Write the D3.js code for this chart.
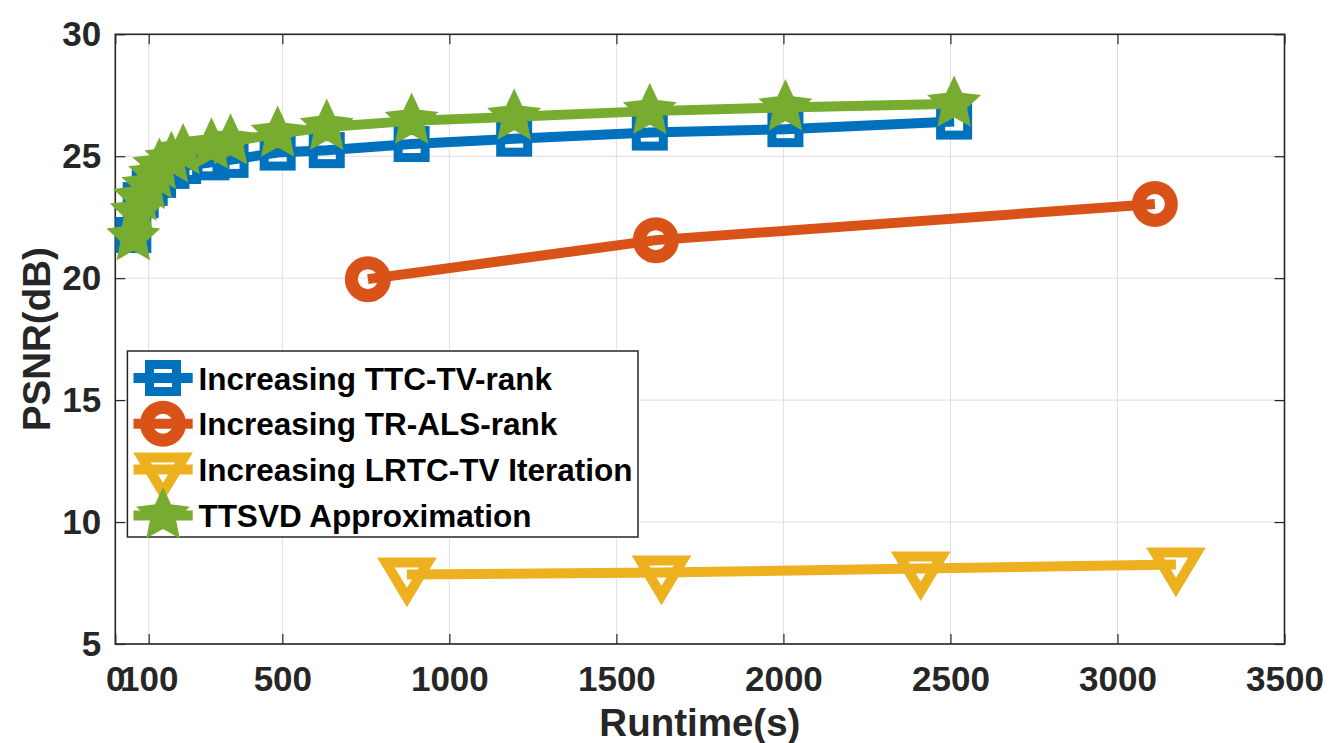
<!DOCTYPE html>
<html>
<head>
<meta charset="utf-8">
<script src="https://cdn.jsdelivr.net/npm/d3@7"></script>
<style>
  body { margin: 0; background: #fff; }
  svg { display: block; font-family: "Liberation Sans", Arial, sans-serif; font-weight: bold; }
  .grid line { stroke: #dedede; stroke-width: 1; }
</style>
</head>
<body>
<svg id="chart" width="1335" height="743"></svg>
<script>
// values
const ttcX = [54, 76, 103, 128, 168, 203, 288, 345, 486, 633, 887, 1194, 1600, 2006, 2511];
const ttcY = [21.77, 23.2, 23.7, 24.03, 24.4, 24.6, 24.75, 24.85, 25.15, 25.25, 25.5, 25.72, 25.97, 26.11, 26.42];

const trX = [756, 1618, 3112];
const trY = [19.96, 21.56, 23.04];

const lrtcX = [873, 1635, 2411, 3175];
const lrtcY = [7.85, 7.93, 8.10, 8.26];

const ttsvdX = [54, 64, 74, 99, 119, 132, 168, 203, 288, 345, 486, 633, 887, 1194, 1600, 2006, 2511];
const ttsvdY = [21.68, 22.7, 23.3, 23.78, 24.23, 24.6, 24.88, 25.2, 25.43, 25.6, 25.92, 26.2, 26.45, 26.62, 26.85, 27.0, 27.15];

const xTicks = [0, 100, 500, 1000, 1500, 2000, 2500, 3000, 3500];
const yTicks = [5, 10, 15, 20, 25, 30];

const legendLabels = [
  "Increasing TTC-TV-rank",
  "Increasing TR-ALS-rank",
  "Increasing LRTC-TV Iteration",
  "TTSVD Approximation"
];

const series = [
  { xs: ttcX, ys: ttcY, color: "#0072BD", marker: "square" },
  { xs: trX, ys: trY, color: "#D95319", marker: "circle" },
  { xs: lrtcX, ys: lrtcY, color: "#EDB120", marker: "triangle" },
  { xs: ttsvdX, ys: ttsvdY, color: "#77AC30", marker: "star" }
];

const svg = d3.select("#chart");
const plot = { left: 115.3, right: 1284.5, top: 34.3, bottom: 644 };
const axisColor = "#262626";

const x = d3.scaleLinear().domain([0, 3500]).range([plot.left, plot.right]);
const y = d3.scaleLinear().domain([5, 30]).range([plot.bottom, plot.top]);

// grid
const grid = svg.append("g").attr("class", "grid");
grid.selectAll("line.gx").data(xTicks).join("line")
  .attr("x1", d => x(d)).attr("x2", d => x(d))
  .attr("y1", plot.top).attr("y2", plot.bottom);
grid.selectAll("line.gy").data(yTicks).join("line")
  .attr("class", "gy")
  .attr("x1", plot.left).attr("x2", plot.right)
  .attr("y1", d => y(d)).attr("y2", d => y(d));

// axes: ticks inside, box on
const tickLen = 10;
const fmt = d3.format("d");
const xAxisB = d3.axisBottom(x).tickValues(xTicks).tickSize(-tickLen).tickPadding(22).tickFormat(fmt);
const xAxisT = d3.axisTop(x).tickValues(xTicks).tickSize(-tickLen).tickFormat("");
const yAxisL = d3.axisLeft(y).tickValues(yTicks).tickSize(-tickLen).tickPadding(14).tickFormat(fmt);
const yAxisR = d3.axisRight(y).tickValues(yTicks).tickSize(-tickLen).tickFormat("");

function styleAxis(g) {
  g.select(".domain").remove();
  g.selectAll(".tick line").attr("stroke", axisColor).attr("stroke-width", 1.2);
  g.selectAll(".tick text")
    .attr("fill", axisColor)
    .style("font-size", "35px")
    .style("font-weight", "bold")
    .style("font-family", "'Liberation Sans', Arial, sans-serif");
}

svg.append("g").attr("transform", `translate(0,${plot.bottom})`).call(xAxisB).call(styleAxis);
svg.append("g").attr("transform", `translate(0,${plot.top})`).call(xAxisT).call(styleAxis);
svg.append("g").attr("transform", `translate(${plot.left},0)`).call(yAxisL).call(styleAxis);
svg.append("g").attr("transform", `translate(${plot.right},0)`).call(yAxisR).call(styleAxis);

svg.append("rect")
  .attr("x", plot.left).attr("y", plot.top)
  .attr("width", plot.right - plot.left).attr("height", plot.bottom - plot.top)
  .attr("fill", "none").attr("stroke", axisColor).attr("stroke-width", 1.6);

// axis labels
svg.append("text")
  .attr("x", (plot.left + plot.right) / 2).attr("y", 736)
  .attr("text-anchor", "middle")
  .attr("fill", axisColor)
  .style("font-size", "38.5px")
  .text("Runtime(s)");

svg.append("text")
  .attr("transform", `translate(50,${(plot.top + plot.bottom) / 2}) rotate(-90)`)
  .attr("text-anchor", "middle")
  .attr("fill", axisColor)
  .style("font-size", "38.5px")
  .text("PSNR(dB)");

// markers
const starPath = (() => {
  const R = 26, r = 12.5;
  const pts = [];
  for (let i = 0; i < 10; i++) {
    const a = -Math.PI / 2 + i * Math.PI / 5;
    const rad = i % 2 === 0 ? R : r;
    pts.push([rad * Math.cos(a), rad * Math.sin(a)]);
  }
  return "M" + pts.map(p => p.join(",")).join("L") + "Z";
})();

function drawMarker(g, type, color) {
  if (type === "square") {
    g.append("rect").attr("x", -13.5).attr("y", -13.5).attr("width", 27).attr("height", 27)
      .attr("fill", "none").attr("stroke", color).attr("stroke-width", 9);
  } else if (type === "circle") {
    g.append("circle").attr("r", 16.5)
      .attr("fill", "none").attr("stroke", color).attr("stroke-width", 13);
  } else if (type === "triangle") {
    g.append("path").attr("d", "M-21,-12L21,-12L0,23Z")
      .attr("fill", "none").attr("stroke", color).attr("stroke-width", 10)
      .attr("stroke-linejoin", "miter").attr("stroke-miterlimit", 10);
  } else {
    g.append("path").attr("d", starPath)
      .attr("fill", color).attr("stroke", color).attr("stroke-width", 2)
      .attr("stroke-linejoin", "miter");
  }
}

const line = d3.line().x(d => x(d[0])).y(d => y(d[1]));

series.forEach(s => {
  const pts = s.xs.map((v, i) => [v, s.ys[i]]);
  const g = svg.append("g");
  g.append("path")
    .attr("d", line(pts))
    .attr("fill", "none")
    .attr("stroke", s.color)
    .attr("stroke-width", 10)
    .attr("stroke-linejoin", "miter");
  g.selectAll("g.m").data(pts).join("g")
    .attr("class", "m")
    .attr("transform", d => `translate(${x(d[0])},${y(d[1])})`)
    .each(function () { drawMarker(d3.select(this), s.marker, s.color); });
});

// legend
const legend = svg.append("g");
legend.append("rect")
  .attr("x", 127.4).attr("y", 351).attr("width", 510.6).attr("height", 186)
  .attr("fill", "#fff").attr("stroke", axisColor).attr("stroke-width", 1.5);

series.forEach((s, i) => {
  const cy = 378 + i * 45.8;
  const row = legend.append("g");
  row.append("line")
    .attr("x1", 133.5).attr("x2", 192.7).attr("y1", cy).attr("y2", cy)
    .attr("stroke", s.color).attr("stroke-width", 10);
  const m = row.append("g").attr("transform", `translate(163,${cy})`);
  drawMarker(m, s.marker, s.color);
  row.append("text")
    .attr("x", 198.4).attr("y", cy + 11.5)
    .attr("fill", "#000")
    .style("font-size", "31.5px")
    .text(legendLabels[i]);
});
</script>
</body>
</html>
